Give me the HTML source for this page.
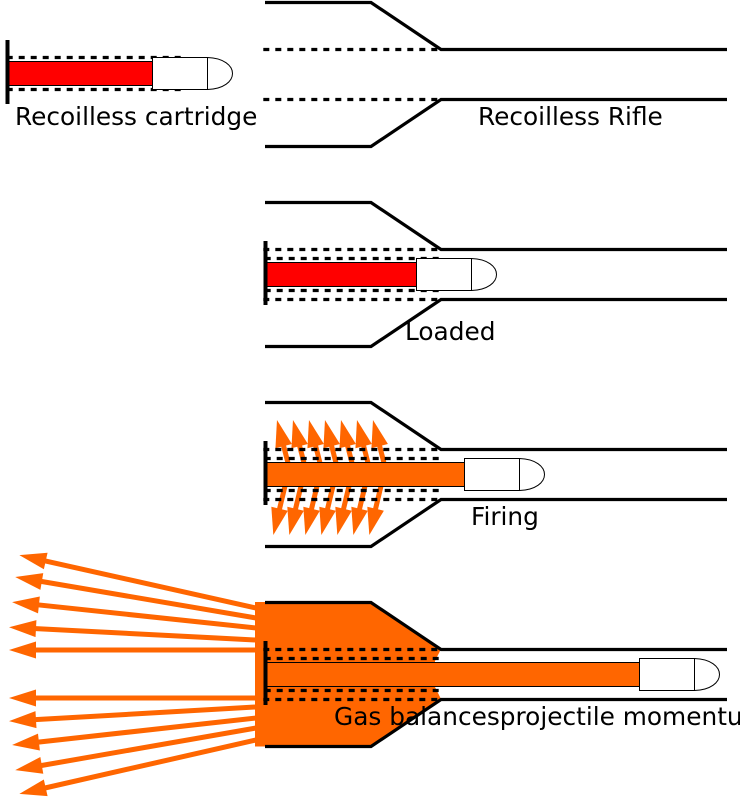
<!DOCTYPE html>
<html>
<head>
<meta charset="utf-8">
<style>
html,body{margin:0;padding:0;background:#fff;width:740px;height:800px;overflow:hidden}
svg{display:block}
text{font-family:"DejaVu Sans",sans-serif;font-size:24.8px;fill:#000}
</style>
</head>
<body>
<svg width="740" height="800" viewBox="0 0 740 800" xmlns="http://www.w3.org/2000/svg">
<defs>
<marker id="h" markerUnits="userSpaceOnUse" markerWidth="30" markerHeight="20" refX="12" refY="10" orient="auto" overflow="visible">
<polygon points="27,10 0,1.5 0,18.5" fill="#ff6600"/>
</marker>
<g id="barrel" fill="none" stroke="#000" stroke-width="3.2">
<path d="M265,2.5H371L441,49.5H727"/>
<path d="M265,146.5H371L441,99.5H727"/>
<path d="M263.3,49.5H441M263.3,99.5H441" stroke-dasharray="6 6"/>
</g>
<g id="nose">
<path d="M55,0C71,0.5 80,8 80,16C80,24 71,31.5 55,32Z" fill="#fff" stroke="#000" stroke-width="1"/>
<path d="M0,0H55V32H0Z" fill="#fff" stroke="#000" stroke-width="1"/>
</g>
<g id="cdash" fill="none" stroke="#000" stroke-width="3.2" stroke-dasharray="6 6">
<path d="M0,0H176M0,32H176"/>
</g>
<g id="up"><line x1="288" y1="463" x2="280.7" y2="434.5" stroke="#ff6600" stroke-width="5" marker-end="url(#h)"/></g>
<g id="down"><line x1="285" y1="486" x2="276.8" y2="520.4" stroke="#ff6600" stroke-width="5" marker-end="url(#h)"/></g>
</defs>

<!-- Panel 1 -->
<use href="#barrel"/>
<use href="#cdash" x="6.7" y="57.5"/>
<rect x="8.5" y="61.5" width="144" height="24" fill="#ff0000" stroke="#000" stroke-width="1"/>
<use href="#nose" x="152.5" y="57.5"/>
<line x1="7.5" y1="40" x2="7.5" y2="104" stroke="#000" stroke-width="4"/>
<text x="15" y="125">Recoilless cartridge</text>
<text x="478" y="125">Recoilless Rifle</text>

<!-- Panel 2 -->
<use href="#barrel" y="200"/>
<use href="#cdash" x="264.7" y="258.5"/>
<rect x="266.5" y="262.5" width="150" height="24" fill="#ff0000" stroke="#000" stroke-width="1"/>
<use href="#nose" x="416.5" y="258.5"/>
<line x1="265.5" y1="241" x2="265.5" y2="305" stroke="#000" stroke-width="4"/>
<text x="405" y="340">Loaded</text>

<!-- Panel 3 -->
<g>
<use href="#up"/><use href="#up" x="16"/><use href="#up" x="32"/><use href="#up" x="48"/><use href="#up" x="64"/><use href="#up" x="80"/><use href="#up" x="96"/>
<use href="#down"/><use href="#down" x="16"/><use href="#down" x="32"/><use href="#down" x="48"/><use href="#down" x="64"/><use href="#down" x="80"/><use href="#down" x="96"/>
</g>
<use href="#barrel" y="400"/>
<use href="#cdash" x="264.7" y="458.5"/>
<rect x="266.5" y="462.5" width="198" height="24" fill="#ff6600" stroke="#000" stroke-width="1"/>
<use href="#nose" x="464.5" y="458.5"/>
<line x1="265.5" y1="441" x2="265.5" y2="505" stroke="#000" stroke-width="4"/>
<text x="471" y="525">Firing</text>

<!-- Panel 4 -->
<g stroke="#ff6600" stroke-width="5">
<line x1="256" y1="608" x2="34" y2="558.4" marker-end="url(#h)"/>
<line x1="256" y1="618" x2="30" y2="579.5" marker-end="url(#h)"/>
<line x1="256" y1="628" x2="27" y2="603.7" marker-end="url(#h)"/>
<line x1="256" y1="640" x2="24" y2="628" marker-end="url(#h)"/>
<line x1="256" y1="650" x2="24" y2="650" marker-end="url(#h)"/>
<line x1="256" y1="698" x2="24" y2="698" marker-end="url(#h)"/>
<line x1="256" y1="707" x2="24" y2="720.3" marker-end="url(#h)"/>
<line x1="256" y1="718" x2="27" y2="743.4" marker-end="url(#h)"/>
<line x1="256" y1="728" x2="30" y2="767.5" marker-end="url(#h)"/>
<line x1="256" y1="740" x2="34" y2="790.5" marker-end="url(#h)"/>
</g>
<polygon points="255,602 371,602 441,649 438,655 435,661 435,687 438,693 441,699 371,746.5 255,746.5" fill="#ff6600"/>
<use href="#barrel" y="600"/>
<use href="#cdash" x="264.7" y="658.5"/>
<rect x="266.5" y="662.5" width="373" height="24" fill="#ff6600" stroke="#000" stroke-width="1"/>
<use href="#nose" x="639.5" y="658.5"/>
<line x1="265.5" y1="641" x2="265.5" y2="705" stroke="#000" stroke-width="4"/>
<text x="334" y="725">Gas balancesprojectile momentum</text>
</svg>
</body>
</html>
